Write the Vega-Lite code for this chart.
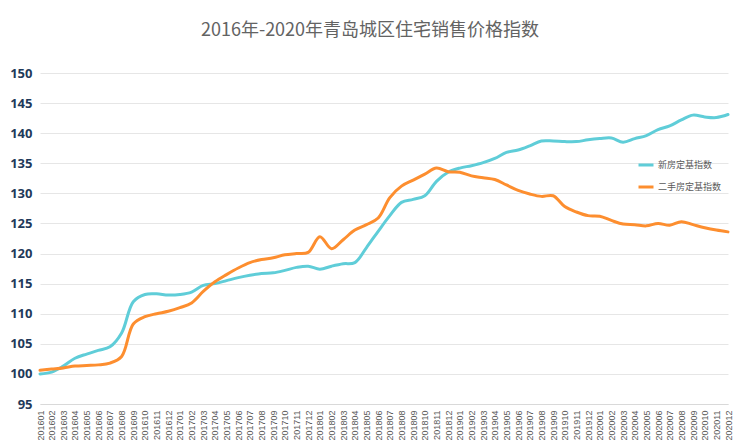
{
  "$schema": "https://vega.github.io/schema/vega-lite/v6.json",
  "width": 688,
  "height": 331,
  "autosize": {"type": "none"},
  "padding": {"left": 40, "top": 73, "right": 12, "bottom": 42},
  "background": "#ffffff",
  "title": {
    "text": "2016年-2020年青岛城区住宅销售价格指数",
    "anchor": "middle",
    "frame": "group",
    "dx": -14,
    "offset": 27,
    "fontSize": 18,
    "fontWeight": "normal",
    "font": "Noto Sans CJK SC",
    "color": "#636363"
  },
  "config": {
    "view": {"stroke": null},
    "font": "Noto Sans CJK SC"
  },
  "data": {
    "values": [
      {"month": "201601", "series": "新房定基指数", "value": 100.0},
      {"month": "201602", "series": "新房定基指数", "value": 100.3},
      {"month": "201603", "series": "新房定基指数", "value": 101.3},
      {"month": "201604", "series": "新房定基指数", "value": 102.6},
      {"month": "201605", "series": "新房定基指数", "value": 103.3},
      {"month": "201606", "series": "新房定基指数", "value": 103.9},
      {"month": "201607", "series": "新房定基指数", "value": 104.5},
      {"month": "201608", "series": "新房定基指数", "value": 106.8},
      {"month": "201609", "series": "新房定基指数", "value": 112.0},
      {"month": "201610", "series": "新房定基指数", "value": 113.2},
      {"month": "201611", "series": "新房定基指数", "value": 113.3},
      {"month": "201612", "series": "新房定基指数", "value": 113.1},
      {"month": "201701", "series": "新房定基指数", "value": 113.2},
      {"month": "201702", "series": "新房定基指数", "value": 113.6},
      {"month": "201703", "series": "新房定基指数", "value": 114.7},
      {"month": "201704", "series": "新房定基指数", "value": 115.0},
      {"month": "201705", "series": "新房定基指数", "value": 115.5},
      {"month": "201706", "series": "新房定基指数", "value": 116.0},
      {"month": "201707", "series": "新房定基指数", "value": 116.4},
      {"month": "201708", "series": "新房定基指数", "value": 116.7},
      {"month": "201709", "series": "新房定基指数", "value": 116.8},
      {"month": "201710", "series": "新房定基指数", "value": 117.2},
      {"month": "201711", "series": "新房定基指数", "value": 117.7},
      {"month": "201712", "series": "新房定基指数", "value": 117.9},
      {"month": "201801", "series": "新房定基指数", "value": 117.4},
      {"month": "201802", "series": "新房定基指数", "value": 117.9},
      {"month": "201803", "series": "新房定基指数", "value": 118.3},
      {"month": "201804", "series": "新房定基指数", "value": 118.5},
      {"month": "201805", "series": "新房定基指数", "value": 121.0},
      {"month": "201806", "series": "新房定基指数", "value": 123.7},
      {"month": "201807", "series": "新房定基指数", "value": 126.3},
      {"month": "201808", "series": "新房定基指数", "value": 128.5},
      {"month": "201809", "series": "新房定基指数", "value": 129.0},
      {"month": "201810", "series": "新房定基指数", "value": 129.6},
      {"month": "201811", "series": "新房定基指数", "value": 132.0},
      {"month": "201812", "series": "新房定基指数", "value": 133.5},
      {"month": "201901", "series": "新房定基指数", "value": 134.2},
      {"month": "201902", "series": "新房定基指数", "value": 134.6},
      {"month": "201903", "series": "新房定基指数", "value": 135.1},
      {"month": "201904", "series": "新房定基指数", "value": 135.8},
      {"month": "201905", "series": "新房定基指数", "value": 136.8},
      {"month": "201906", "series": "新房定基指数", "value": 137.2},
      {"month": "201907", "series": "新房定基指数", "value": 137.9},
      {"month": "201908", "series": "新房定基指数", "value": 138.7},
      {"month": "201909", "series": "新房定基指数", "value": 138.7},
      {"month": "201910", "series": "新房定基指数", "value": 138.6},
      {"month": "201911", "series": "新房定基指数", "value": 138.6},
      {"month": "201912", "series": "新房定基指数", "value": 138.9},
      {"month": "202001", "series": "新房定基指数", "value": 139.1},
      {"month": "202002", "series": "新房定基指数", "value": 139.2},
      {"month": "202003", "series": "新房定基指数", "value": 138.5},
      {"month": "202004", "series": "新房定基指数", "value": 139.1},
      {"month": "202005", "series": "新房定基指数", "value": 139.6},
      {"month": "202006", "series": "新房定基指数", "value": 140.6},
      {"month": "202007", "series": "新房定基指数", "value": 141.2},
      {"month": "202008", "series": "新房定基指数", "value": 142.2},
      {"month": "202009", "series": "新房定基指数", "value": 143.0},
      {"month": "202010", "series": "新房定基指数", "value": 142.7},
      {"month": "202011", "series": "新房定基指数", "value": 142.6},
      {"month": "202012", "series": "新房定基指数", "value": 143.1},
      {"month": "201601", "series": "二手房定基指数", "value": 100.6},
      {"month": "201602", "series": "二手房定基指数", "value": 100.8},
      {"month": "201603", "series": "二手房定基指数", "value": 101.0},
      {"month": "201604", "series": "二手房定基指数", "value": 101.3},
      {"month": "201605", "series": "二手房定基指数", "value": 101.4},
      {"month": "201606", "series": "二手房定基指数", "value": 101.5},
      {"month": "201607", "series": "二手房定基指数", "value": 101.8},
      {"month": "201608", "series": "二手房定基指数", "value": 102.9},
      {"month": "201609", "series": "二手房定基指数", "value": 108.3},
      {"month": "201610", "series": "二手房定基指数", "value": 109.5},
      {"month": "201611", "series": "二手房定基指数", "value": 110.0},
      {"month": "201612", "series": "二手房定基指数", "value": 110.4},
      {"month": "201701", "series": "二手房定基指数", "value": 111.0},
      {"month": "201702", "series": "二手房定基指数", "value": 111.8},
      {"month": "201703", "series": "二手房定基指数", "value": 113.7},
      {"month": "201704", "series": "二手房定基指数", "value": 115.3},
      {"month": "201705", "series": "二手房定基指数", "value": 116.5},
      {"month": "201706", "series": "二手房定基指数", "value": 117.6},
      {"month": "201707", "series": "二手房定基指数", "value": 118.5},
      {"month": "201708", "series": "二手房定基指数", "value": 119.0},
      {"month": "201709", "series": "二手房定基指数", "value": 119.3},
      {"month": "201710", "series": "二手房定基指数", "value": 119.8},
      {"month": "201711", "series": "二手房定基指数", "value": 120.0},
      {"month": "201712", "series": "二手房定基指数", "value": 120.2},
      {"month": "201801", "series": "二手房定基指数", "value": 122.8},
      {"month": "201802", "series": "二手房定基指数", "value": 120.8},
      {"month": "201803", "series": "二手房定基指数", "value": 122.3},
      {"month": "201804", "series": "二手房定基指数", "value": 123.9},
      {"month": "201805", "series": "二手房定基指数", "value": 124.8},
      {"month": "201806", "series": "二手房定基指数", "value": 125.9},
      {"month": "201807", "series": "二手房定基指数", "value": 129.3},
      {"month": "201808", "series": "二手房定基指数", "value": 131.2},
      {"month": "201809", "series": "二手房定基指数", "value": 132.2},
      {"month": "201810", "series": "二手房定基指数", "value": 133.2},
      {"month": "201811", "series": "二手房定基指数", "value": 134.2},
      {"month": "201812", "series": "二手房定基指数", "value": 133.6},
      {"month": "201901", "series": "二手房定基指数", "value": 133.5},
      {"month": "201902", "series": "二手房定基指数", "value": 132.9},
      {"month": "201903", "series": "二手房定基指数", "value": 132.6},
      {"month": "201904", "series": "二手房定基指数", "value": 132.3},
      {"month": "201905", "series": "二手房定基指数", "value": 131.4},
      {"month": "201906", "series": "二手房定基指数", "value": 130.5},
      {"month": "201907", "series": "二手房定基指数", "value": 129.9},
      {"month": "201908", "series": "二手房定基指数", "value": 129.5},
      {"month": "201909", "series": "二手房定基指数", "value": 129.6},
      {"month": "201910", "series": "二手房定基指数", "value": 127.8},
      {"month": "201911", "series": "二手房定基指数", "value": 126.9},
      {"month": "201912", "series": "二手房定基指数", "value": 126.3},
      {"month": "202001", "series": "二手房定基指数", "value": 126.2},
      {"month": "202002", "series": "二手房定基指数", "value": 125.5},
      {"month": "202003", "series": "二手房定基指数", "value": 124.9},
      {"month": "202004", "series": "二手房定基指数", "value": 124.8},
      {"month": "202005", "series": "二手房定基指数", "value": 124.6},
      {"month": "202006", "series": "二手房定基指数", "value": 125.0},
      {"month": "202007", "series": "二手房定基指数", "value": 124.7},
      {"month": "202008", "series": "二手房定基指数", "value": 125.3},
      {"month": "202009", "series": "二手房定基指数", "value": 124.8},
      {"month": "202010", "series": "二手房定基指数", "value": 124.3},
      {"month": "202011", "series": "二手房定基指数", "value": 123.9},
      {"month": "202012", "series": "二手房定基指数", "value": 123.6}
    ]
  },
  "mark": {"type": "line", "interpolate": "catmull-rom", "strokeWidth": 3, "strokeCap": "round"},
  "encoding": {
    "x": {
      "field": "month",
      "type": "ordinal",
      "scale": {"type": "point", "padding": 0},
      "axis": {
        "title": null,
        "labelAngle": 270,
        "labelFontSize": 9,
        "labelFont": "Liberation Sans",
        "labelColor": "#595959",
        "labelPadding": 6,
        "ticks": false,
        "domain": true,
        "domainColor": "#d9d9d9",
        "grid": false,
        "labelOverlap": false
      }
    },
    "y": {
      "field": "value",
      "type": "quantitative",
      "scale": {"domain": [95, 150], "nice": false, "zero": false},
      "axis": {
        "title": null,
        "values": [95, 100, 105, 110, 115, 120, 125, 130, 135, 140, 145, 150],
        "labelFontSize": 13,
        "labelFontWeight": "bold",
        "labelFont": "Open Sans",
        "labelColor": "#1f3a5a",
        "labelPadding": 8,
        "ticks": false,
        "domain": false,
        "grid": true,
        "gridColor": "#e6e6e6",
        "gridWidth": 1
      }
    },
    "color": {
      "field": "series",
      "type": "nominal",
      "scale": {"domain": ["新房定基指数", "二手房定基指数"], "range": ["#5fcdd8", "#fd8e2f"]},
      "sort": ["新房定基指数", "二手房定基指数"],
      "legend": {
        "title": null,
        "orient": "none",
        "legendX": 597,
        "legendY": 83,
        "symbolType": "stroke",
        "symbolSize": 225,
        "symbolStrokeWidth": 3,
        "labelFontSize": 9,
        "labelColor": "#595959",
        "labelOffset": 3,
        "rowPadding": 7
      }
    }
  }
}
